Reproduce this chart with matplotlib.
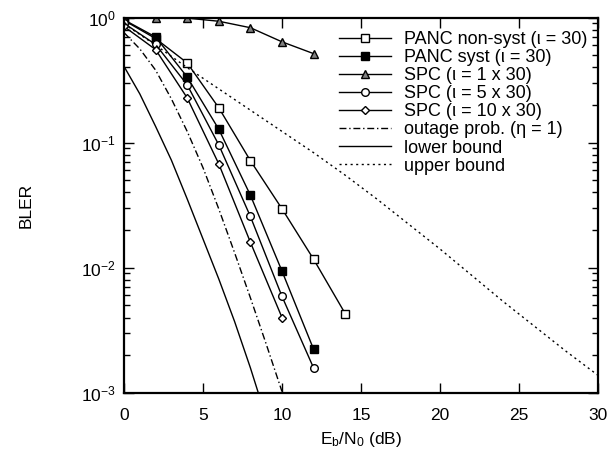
import numpy as np
import matplotlib
matplotlib.use("Agg")
import matplotlib.pyplot as plt
from matplotlib.ticker import LogLocator, NullFormatter, LogFormatterSciNotation

plt.rcParams['font.family'] = ['Liberation Sans', 'DejaVu Sans']
plt.rcParams['mathtext.fontset'] = 'custom'
plt.rcParams['mathtext.rm'] = 'Liberation Sans'
plt.rcParams['mathtext.it'] = 'Liberation Sans:italic'
plt.rcParams['mathtext.default'] = 'rm'

# Data
ebn0_sim = [0, 2, 4, 6, 8, 10, 12, 14]
panc_nonsyst = [0.95, 0.68, 0.434, 0.19, 0.0718, 0.0296, 0.0117, 0.0043]
panc_syst = [0.96, 0.70, 0.335, 0.128, 0.038, 0.0094, 0.00223]
spc_1 = [1.0, 1.0, 0.99, 0.935, 0.83, 0.64, 0.515]
spc_5 = [0.90, 0.61, 0.29, 0.096, 0.0257, 0.0059, 0.00158]
spc_10 = [0.85, 0.555, 0.228, 0.0676, 0.016, 0.004]

outage_x = [0, 1, 2, 3, 4, 5, 6, 7, 8, 9, 10]
outage_log = [-0.12, -0.25, -0.42, -0.65, -0.91, -1.2, -1.53, -1.88, -2.24, -2.61, -2.99]
lower_x = [0, 1, 2, 3, 4, 5, 6, 7, 8, 8.5]
lower_log = [-0.39, -0.61, -0.87, -1.14, -1.45, -1.77, -2.09, -2.43, -2.8, -3.0]
upper_x = [0, 2, 4, 6, 8, 10, 12, 14, 16, 18, 20, 22, 24, 26, 28, 30]
upper_log = [-0.05, -0.22, -0.40, -0.57, -0.74, -0.91, -1.08, -1.26, -1.45, -1.65, -1.85,
             -2.06, -2.27, -2.47, -2.67, -2.86]

labels = ['PANC non-syst (ι = 30)', 'PANC syst (ι = 30)', 'SPC (ι = 1 x 30)',
          'SPC (ι = 5 x 30)', 'SPC (ι = 10 x 30)', 'outage prob. (η = 1)',
          'lower bound', 'upper bound']

fig = plt.figure(figsize=(6.12, 4.51), dpi=100)
ax = fig.add_axes([0.2026, 0.129, 0.7745, 0.832])

lw = 1.0
ms = 5.5
ax.plot(ebn0_sim[:len(panc_nonsyst)], panc_nonsyst, color='black', lw=lw, marker='s',
        ms=ms, mfc='white', mec='black', mew=1.0, label=labels[0])
ax.plot(ebn0_sim[:len(panc_syst)], panc_syst, color='black', lw=lw, marker='s',
        ms=ms, mfc='black', mec='black', label=labels[1])
ax.plot(ebn0_sim[:len(spc_1)], spc_1, color='black', lw=lw, marker='^',
        ms=ms, mfc='#808080', mec='black', mew=1.0, label=labels[2])
ax.plot(ebn0_sim[:len(spc_5)], spc_5, color='black', lw=lw, marker='o',
        ms=ms, mfc='white', mec='black', mew=1.0, label=labels[3])
ax.plot(ebn0_sim[:len(spc_10)], spc_10, color='black', lw=lw, marker='D',
        ms=4.2, mfc='white', mec='black', mew=1.0, label=labels[4])
ax.plot(outage_x, 10 ** np.array(outage_log), color='black', lw=lw,
        linestyle=(0, (5, 2, 1, 2)), label=labels[5])
ax.plot(lower_x, 10 ** np.array(lower_log), color='black', lw=lw, linestyle='-',
        label=labels[6])
ax.plot(upper_x, 10 ** np.array(upper_log), color='black', lw=lw,
        linestyle=(0, (1.5, 2.5)), label=labels[7])

ax.set_yscale('log')
ax.set_xlim(0, 30)
ax.set_ylim(1e-3, 1)
ax.set_xticks([0, 5, 10, 15, 20, 25, 30])
ax.yaxis.set_major_locator(LogLocator(base=10, numticks=10))
ax.yaxis.set_minor_locator(LogLocator(base=10, subs=np.arange(2, 10), numticks=10))
ax.yaxis.set_minor_formatter(NullFormatter())
ax.yaxis.set_major_formatter(LogFormatterSciNotation())

ax.tick_params(which='both', direction='in', top=True, right=True, labelsize=12.5, width=1.0)
ax.tick_params(which='major', length=7, pad=6)
ax.tick_params(axis='x', which='major', pad=11)
ax.tick_params(which='minor', length=4)
for sp in ax.spines.values():
    sp.set_linewidth(1.6)

ax.set_xlabel('E$_b$/N$_0$ (dB)', fontsize=12.5)
ax.set_ylabel('BLER', fontsize=12.5)
ax.xaxis.set_label_coords(0.5, -0.1)
ax.yaxis.set_label_coords(-0.19, 0.5)

leg = ax.legend(loc='upper right', frameon=False, fontsize=13, handlelength=2.9,
                handletextpad=0.7, labelspacing=0.06, borderaxespad=0.2,
                bbox_to_anchor=(1.0, 0.993))

fig.savefig('out.png', dpi=100)
